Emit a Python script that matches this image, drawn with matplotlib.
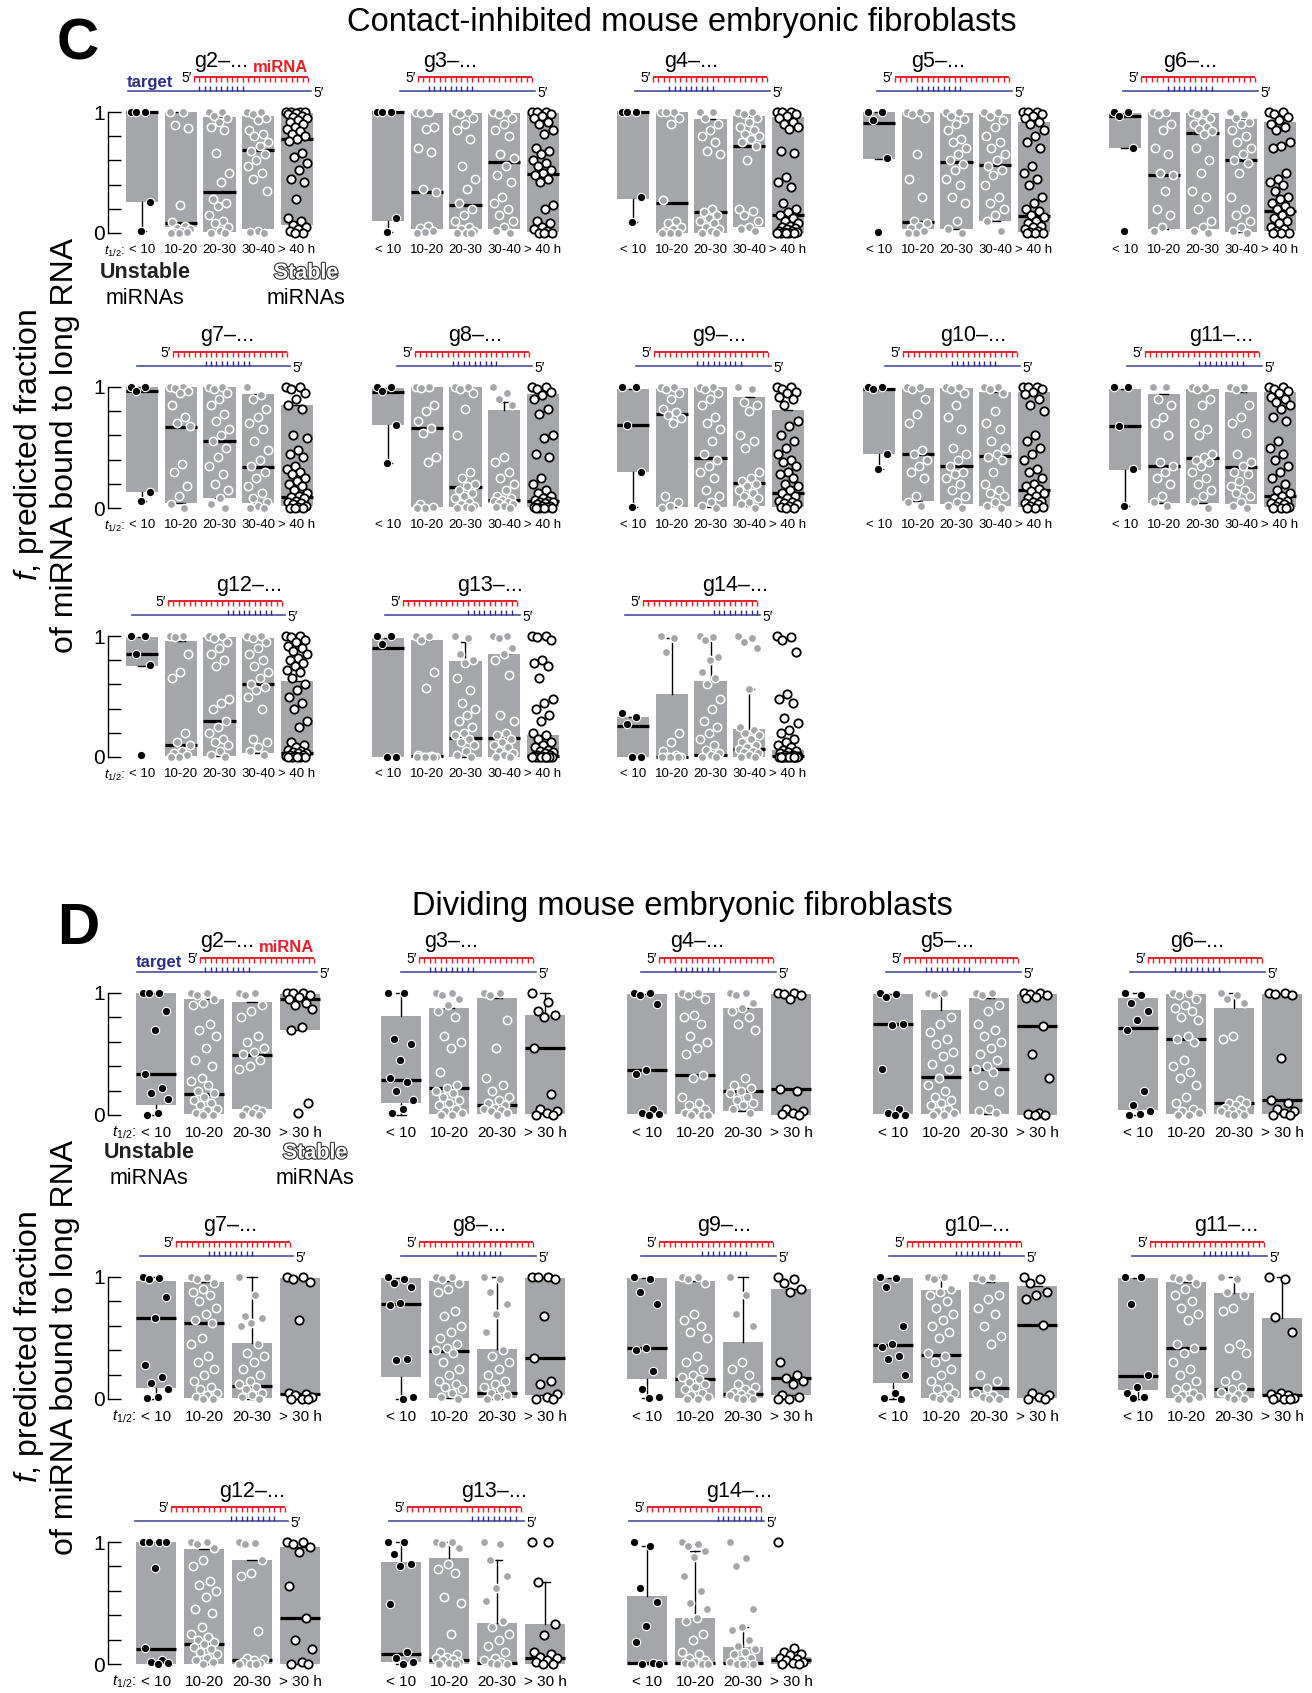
import numpy as np
import matplotlib
import matplotlib.pyplot as plt
from matplotlib import font_manager, patheffects

# ---------------------------------------------------------------
#   Data: points per half-life group and
#   box stats (whisker low, q1, median, q3, whisker high)
# ---------------------------------------------------------------
c_groups = ['< 10', '10-20', '20-30', '30-40', '> 40 h']
d_groups = ['< 10', '10-20', '20-30', '> 30 h']
seeds = [2, 3, 4, 5, 6, 7, 8, 9, 10, 11, 12, 13, 14]

# Contact-inhibited MEFs
c_g2 = [[1, 1, 1, 0.26, 0.02],
        [1, 1, 0.89, 0.87, 0.23, 0.09, 0.06, 0.04, 0.03, 0.02, 0.01, 0.01, 0, 0],
        [1, 1, 0.97, 0.95, 0.92, 0.88, 0.85, 0.66, 0.5, 0.42, 0.28, 0.25, 0.22, 0.15, 0.1, 0.08, 0.05, 0.02, 0, 0],
        [1, 1, 0.98, 0.95, 0.93, 0.85, 0.82, 0.8, 0.75, 0.72, 0.68, 0.65, 0.6, 0.55, 0.5, 0.45, 0.35, 0.02, 0.01, 0],
        [1, 1, 1, 1, 0.99, 0.98, 0.97, 0.96, 0.95, 0.93, 0.92, 0.9, 0.88, 0.86, 0.84, 0.82, 0.8, 0.78, 0.76, 0.66,
         0.63, 0.58, 0.52, 0.45, 0.42, 0.28, 0.12, 0.1, 0.07, 0.05, 0.03, 0.02, 0, 0]]
c_g3 = [[1, 1, 1, 0.12, 0.01],
        [1, 1, 0.99, 0.88, 0.86, 0.7, 0.67, 0.36, 0.34, 0.06, 0.04, 0.02, 0.01, 0],
        [1, 1, 0.98, 0.95, 0.9, 0.85, 0.78, 0.55, 0.45, 0.36, 0.25, 0.2, 0.15, 0.1, 0.05, 0.03, 0.02, 0, 0, 0],
        [1, 1, 0.98, 0.95, 0.9, 0.85, 0.8, 0.65, 0.62, 0.55, 0.48, 0.42, 0.3, 0.25, 0.2, 0.15, 0.1, 0.05, 0.02, 0],
        [1, 1, 1, 0.98, 0.97, 0.95, 0.92, 0.9, 0.85, 0.82, 0.7, 0.68, 0.65, 0.6, 0.58, 0.55, 0.52, 0.5, 0.48, 0.45,
         0.42, 0.23, 0.2, 0.1, 0.08, 0.05, 0.03, 0.02, 0, 0, 0]]
c_g4 = [[1, 1, 1, 0.3, 0.09],
        [1, 1, 1, 0.95, 0.9, 0.27, 0.1, 0.08, 0.05, 0.03, 0.02, 0, 0, 0],
        [1, 1, 0.95, 0.9, 0.85, 0.8, 0.75, 0.68, 0.65, 0.2, 0.17, 0.15, 0.12, 0.1, 0.08, 0.05, 0.03, 0.02, 0, 0],
        [1, 1, 0.98, 0.95, 0.92, 0.88, 0.85, 0.82, 0.8, 0.78, 0.75, 0.72, 0.6, 0.2, 0.18, 0.15, 0.1, 0.05, 0.03, 0.02],
        [1, 1, 1, 0.98, 0.97, 0.95, 0.92, 0.9, 0.88, 0.86, 0.68, 0.66, 0.46, 0.42, 0.38, 0.25, 0.2, 0.17, 0.15, 0.12,
         0.1, 0.08, 0.06, 0.05, 0.04, 0.03, 0.02, 0.02, 0.01, 0.01, 0, 0, 0, 0, 0]]
c_g5 = [[1, 1, 0.93, 0.62, 0.01],
        [1, 1, 0.98, 0.95, 0.65, 0.45, 0.3, 0.1, 0.08, 0.06, 0.04, 0.02, 0, 0],
        [1, 1, 0.97, 0.94, 0.9, 0.85, 0.78, 0.75, 0.7, 0.65, 0.6, 0.57, 0.52, 0.45, 0.4, 0.3, 0.25, 0.1, 0.03, 0],
        [1, 1, 0.97, 0.93, 0.88, 0.8, 0.75, 0.7, 0.65, 0.6, 0.55, 0.52, 0.48, 0.4, 0.3, 0.25, 0.2, 0.15, 0.1, 0.02],
        [1, 1, 1, 0.98, 0.97, 0.95, 0.92, 0.9, 0.85, 0.8, 0.75, 0.7, 0.55, 0.5, 0.45, 0.4, 0.3, 0.25, 0.2, 0.18,
         0.15, 0.13, 0.1, 0.08, 0.06, 0.05, 0.03, 0.02, 0.01, 0, 0, 0]]
c_g6 = [[1, 1, 0.97, 0.7, 0.02],
        [1, 1, 0.98, 0.9, 0.85, 0.7, 0.65, 0.5, 0.48, 0.35, 0.2, 0.15, 0.05, 0.02],
        [1, 1, 0.98, 0.95, 0.92, 0.9, 0.88, 0.86, 0.84, 0.82, 0.7, 0.6, 0.5, 0.35, 0.3, 0.2, 0.1, 0.05, 0.02, 0],
        [1, 0.98, 0.95, 0.92, 0.9, 0.85, 0.8, 0.75, 0.7, 0.65, 0.6, 0.58, 0.5, 0.3, 0.2, 0.15, 0.1, 0.05, 0.02, 0],
        [1, 1, 0.98, 0.96, 0.93, 0.9, 0.88, 0.85, 0.75, 0.72, 0.7, 0.5, 0.45, 0.42, 0.4, 0.35, 0.3, 0.28, 0.25, 0.22,
         0.2, 0.18, 0.15, 0.12, 0.1, 0.08, 0.05, 0.03, 0.02, 0, 0, 0]]
c_g7 = [[1, 1, 0.97, 0.13, 0.06],
        [1, 1, 0.99, 0.97, 0.95, 0.85, 0.75, 0.7, 0.68, 0.36, 0.3, 0.18, 0.1, 0.03, 0],
        [1, 1, 0.98, 0.95, 0.9, 0.85, 0.78, 0.72, 0.65, 0.6, 0.55, 0.5, 0.42, 0.35, 0.28, 0.2, 0.15, 0.08, 0.03, 0],
        [1, 0.93, 0.9, 0.82, 0.75, 0.7, 0.65, 0.55, 0.48, 0.4, 0.35, 0.3, 0.25, 0.18, 0.12, 0.08, 0.05, 0.02, 0, 0],
        [1, 1, 0.98, 0.95, 0.9, 0.85, 0.82, 0.6, 0.58, 0.48, 0.45, 0.42, 0.35, 0.32, 0.3, 0.28, 0.25, 0.22, 0.2,
         0.18, 0.15, 0.12, 0.1, 0.09, 0.08, 0.06, 0.05, 0.04, 0.03, 0.02, 0.01, 0, 0, 0]]
c_g8 = [[1, 1, 0.97, 0.69, 0.37],
        [1, 1, 0.99, 0.85, 0.8, 0.72, 0.66, 0.62, 0.42, 0.38, 0.03, 0.01, 0, 0],
        [1, 1, 0.98, 0.95, 0.82, 0.6, 0.3, 0.25, 0.2, 0.18, 0.15, 0.12, 0.1, 0.08, 0.05, 0.03, 0.02, 0.01, 0, 0],
        [1, 0.95, 0.9, 0.85, 0.42, 0.38, 0.3, 0.25, 0.2, 0.15, 0.1, 0.08, 0.07, 0.06, 0.05, 0.04, 0.03, 0.02, 0.01, 0],
        [1, 1, 0.98, 0.96, 0.93, 0.9, 0.82, 0.78, 0.6, 0.58, 0.45, 0.42, 0.25, 0.2, 0.15, 0.12, 0.1, 0.08, 0.07,
         0.06, 0.05, 0.05, 0.04, 0.03, 0.02, 0.02, 0.01, 0.01, 0, 0, 0, 0]]
c_g9 = [[1, 1, 0.69, 0.3, 0.01],
        [1, 1, 0.98, 0.95, 0.9, 0.82, 0.79, 0.77, 0.74, 0.7, 0.1, 0.05, 0.02, 0],
        [1, 1, 0.98, 0.95, 0.9, 0.85, 0.75, 0.7, 0.65, 0.55, 0.45, 0.4, 0.35, 0.3, 0.25, 0.15, 0.1, 0.05, 0.02, 0],
        [1, 0.98, 0.88, 0.85, 0.8, 0.6, 0.55, 0.5, 0.3, 0.25, 0.22, 0.2, 0.18, 0.15, 0.12, 0.1, 0.08, 0.05, 0.03, 0],
        [1, 1, 0.98, 0.96, 0.95, 0.92, 0.9, 0.85, 0.72, 0.68, 0.6, 0.55, 0.5, 0.45, 0.4, 0.38, 0.35, 0.3, 0.28,
         0.25, 0.2, 0.18, 0.15, 0.12, 0.1, 0.08, 0.06, 0.05, 0.04, 0.03, 0.02, 0.01, 0, 0]]
c_g10 = [[1, 1, 0.98, 0.45, 0.32],
         [1, 1, 0.98, 0.9, 0.78, 0.7, 0.48, 0.45, 0.4, 0.35, 0.3, 0.25, 0.1, 0.05, 0.02],
         [1, 1, 0.98, 0.95, 0.85, 0.75, 0.65, 0.5, 0.45, 0.4, 0.35, 0.3, 0.28, 0.25, 0.2, 0.15, 0.1, 0.05, 0.02, 0],
         [1, 1, 0.98, 0.95, 0.8, 0.7, 0.65, 0.55, 0.5, 0.45, 0.42, 0.4, 0.3, 0.2, 0.15, 0.12, 0.1, 0.05, 0.02, 0],
         [1, 1, 1, 0.98, 0.96, 0.94, 0.9, 0.85, 0.8, 0.6, 0.55, 0.5, 0.45, 0.4, 0.32, 0.3, 0.25, 0.2, 0.18, 0.16,
          0.14, 0.12, 0.1, 0.08, 0.06, 0.05, 0.04, 0.03, 0.02, 0.01, 0, 0]]
c_g11 = [[1, 1, 0.68, 0.32, 0.02],
         [1, 1, 0.9, 0.85, 0.75, 0.7, 0.6, 0.38, 0.35, 0.3, 0.25, 0.2, 0.1, 0.05, 0.02],
         [1, 1, 0.98, 0.9, 0.85, 0.7, 0.65, 0.6, 0.45, 0.42, 0.4, 0.38, 0.35, 0.3, 0.25, 0.2, 0.15, 0.1, 0.05, 0],
         [1, 1, 0.98, 0.85, 0.75, 0.7, 0.62, 0.45, 0.38, 0.35, 0.3, 0.28, 0.22, 0.18, 0.15, 0.12, 0.1, 0.05, 0.02, 0],
         [1, 1, 0.98, 0.97, 0.95, 0.92, 0.9, 0.88, 0.85, 0.82, 0.75, 0.72, 0.55, 0.5, 0.45, 0.4, 0.35, 0.3, 0.25,
          0.2, 0.15, 0.12, 0.1, 0.08, 0.06, 0.05, 0.04, 0.03, 0.02, 0.01, 0, 0, 0]]
c_g12 = [[1, 1, 0.85, 0.76, 0.02],
         [1, 1, 0.99, 0.85, 0.7, 0.65, 0.2, 0.12, 0.1, 0.05, 0.03, 0.02, 0, 0],
         [1, 1, 0.98, 0.95, 0.9, 0.85, 0.8, 0.75, 0.48, 0.45, 0.4, 0.3, 0.25, 0.2, 0.15, 0.12, 0.1, 0.05, 0.02, 0],
         [1, 1, 0.98, 0.95, 0.9, 0.85, 0.8, 0.75, 0.7, 0.65, 0.6, 0.58, 0.55, 0.5, 0.4, 0.15, 0.12, 0.08, 0.05, 0.02],
         [1, 1, 0.99, 0.97, 0.95, 0.92, 0.9, 0.88, 0.85, 0.82, 0.8, 0.78, 0.75, 0.72, 0.7, 0.65, 0.6, 0.55, 0.5,
          0.45, 0.4, 0.3, 0.25, 0.12, 0.1, 0.08, 0.06, 0.05, 0.04, 0.03, 0.03, 0.02, 0.02, 0.01, 0.01, 0, 0, 0, 0, 0]]
c_g13 = [[1, 1, 0.93, 0, 0],
         [1, 1, 0.97, 0.7, 0.57, 0.02, 0.01, 0, 0, 0, 0, 0, 0, 0],
         [1, 0.98, 0.85, 0.8, 0.78, 0.65, 0.55, 0.45, 0.4, 0.35, 0.3, 0.25, 0.2, 0.18, 0.15, 0.12, 0.1, 0.05, 0.02, 0],
         [1, 1, 0.98, 0.9, 0.85, 0.8, 0.68, 0.35, 0.3, 0.2, 0.18, 0.15, 0.12, 0.1, 0.08, 0.05, 0.03, 0.02, 0, 0],
         [1, 1, 0.99, 0.97, 0.8, 0.78, 0.75, 0.65, 0.48, 0.45, 0.4, 0.35, 0.3, 0.2, 0.18, 0.15, 0.12, 0.1, 0.08,
          0.06, 0.05, 0.04, 0.03, 0.02, 0.02, 0.01, 0.01, 0, 0, 0, 0, 0, 0, 0, 0, 0]]
c_g14 = [[0.36, 0.33, 0.27, 0, 0],
         [1, 0.98, 0.87, 0.2, 0.12, 0.05, 0.02, 0, 0, 0, 0, 0, 0, 0],
         [1, 0.99, 0.97, 0.83, 0.8, 0.7, 0.65, 0.6, 0.48, 0.4, 0.3, 0.25, 0.2, 0.15, 0.1, 0.06, 0.03, 0.02, 0, 0],
         [1, 0.98, 0.95, 0.9, 0.56, 0.25, 0.22, 0.2, 0.18, 0.15, 0.12, 0.1, 0.08, 0.07, 0.05, 0.04, 0.03, 0.02, 0, 0],
         [1, 0.99, 0.97, 0.87, 0.52, 0.48, 0.45, 0.32, 0.28, 0.22, 0.2, 0.15, 0.12, 0.1, 0.08, 0.06, 0.05, 0.04,
          0.03, 0.02, 0.02, 0.01, 0.01, 0, 0, 0, 0, 0, 0, 0, 0, 0, 0]]

c_g2_box = [(0.02, 0.26, 1, 1, 1), (0.05, 0.05, 0.08, 1, 1), (0.01, 0.01, 0.34, 0.96, 0.96),
            (0.03, 0.03, 0.69, 0.97, 0.97), (0.07, 0.07, 0.78, 0.99, 0.99)]
c_g3_box = [(0.01, 0.1, 1, 1, 1), (0.03, 0.03, 0.34, 0.99, 0.99), (0.03, 0.03, 0.23, 0.99, 0.99),
            (0.03, 0.03, 0.59, 0.99, 0.99), (0.01, 0.01, 0.49, 0.99, 0.99)]
c_g4_box = [(0.09, 0.28, 1, 1, 1), (0, 0, 0.25, 1, 1), (0, 0, 0.17, 0.94, 0.94),
            (0.05, 0.05, 0.72, 0.97, 0.97), (0, 0, 0.15, 0.96, 0.96)]
c_g5_box = [(0.61, 0.61, 0.91, 1, 1), (0.03, 0.03, 0.09, 1, 1), (0.03, 0.03, 0.59, 0.99, 0.99),
            (0.1, 0.1, 0.56, 0.98, 0.98), (0.01, 0.01, 0.14, 0.92, 0.92)]
c_g6_box = [(0.7, 0.7, 0.97, 0.99, 0.99), (0.03, 0.03, 0.48, 1, 1), (0.03, 0.03, 0.83, 0.99, 0.99),
            (0.01, 0.01, 0.6, 0.94, 0.94), (0.02, 0.02, 0.18, 0.92, 0.92)]
c_g7_box = [(0.06, 0.13, 0.97, 1, 1), (0.04, 0.04, 0.67, 1, 1), (0.08, 0.08, 0.55, 1, 1),
            (0.04, 0.04, 0.34, 0.94, 0.94), (0.02, 0.02, 0.09, 0.85, 0.85)]
c_g8_box = [(0.37, 0.69, 0.96, 0.99, 0.99), (0.01, 0.01, 0.66, 1, 1), (0.01, 0.01, 0.17, 1, 1),
            (0.04, 0.04, 0.07, 0.81, 0.88), (0.01, 0.01, 0.06, 0.94, 0.94)]
c_g9_box = [(0.01, 0.3, 0.69, 0.98, 0.98), (0.01, 0.01, 0.78, 0.99, 0.99), (0.01, 0.01, 0.41, 1, 1),
            (0.02, 0.02, 0.21, 0.92, 0.92), (0.01, 0.01, 0.12, 0.81, 0.81)]
c_g10_box = [(0.32, 0.45, 0.98, 0.99, 0.99), (0.06, 0.06, 0.45, 0.99, 0.99), (0.03, 0.03, 0.35, 0.99, 0.99),
             (0.02, 0.02, 0.43, 0.96, 0.96), (0.01, 0.01, 0.15, 0.96, 0.96)]
c_g11_box = [(0.02, 0.31, 0.68, 0.98, 0.98), (0.04, 0.04, 0.35, 0.94, 0.94), (0.04, 0.04, 0.41, 0.98, 0.98),
             (0.03, 0.03, 0.34, 0.96, 0.96), (0.01, 0.01, 0.1, 0.96, 0.96)]
c_g12_box = [(0.75, 0.75, 0.85, 0.99, 0.99), (0.01, 0.01, 0.1, 0.96, 0.96), (0.01, 0.01, 0.3, 0.99, 0.99),
             (0.03, 0.03, 0.6, 0.98, 0.98), (0.01, 0.01, 0.03, 0.63, 0.63)]
c_g13_box = [(0, 0, 0.9, 0.98, 0.98), (0, 0, 0.01, 0.97, 0.97), (0, 0, 0.16, 0.79, 0.95),
             (0, 0, 0.16, 0.85, 0.85), (0, 0, 0.01, 0.18, 0.18)]
c_g14_box = [(0, 0, 0.26, 0.33, 0.33), (0, 0, 0, 0.52, 0.98), (0, 0, 0.02, 0.63, 0.98),
             (0, 0, 0.07, 0.23, 0.56), (0, 0, 0.01, 0.06, 0.06)]

# Dividing MEFs
d_g2 = [[1, 1, 1, 0.85, 0.7, 0.34, 0.22, 0.18, 0.13, 0.02, 0],
        [1, 1, 0.98, 0.95, 0.92, 0.9, 0.75, 0.7, 0.65, 0.55, 0.45, 0.4, 0.3, 0.28, 0.25, 0.2, 0.18, 0.15, 0.12,
         0.1, 0.08, 0.05, 0.04, 0.02, 0, 0],
        [1, 1, 0.98, 0.9, 0.85, 0.8, 0.65, 0.6, 0.55, 0.52, 0.5, 0.45, 0.4, 0.38, 0.05, 0.04, 0.03, 0.02, 0, 0],
        [1, 1, 1, 0.98, 0.97, 0.95, 0.92, 0.9, 0.87, 0.72, 0.7, 0.1, 0.02]]
d_g3 = [[1, 1, 0.62, 0.58, 0.45, 0.3, 0.27, 0.2, 0.12, 0.05, 0.02],
        [1, 1, 0.98, 0.95, 0.9, 0.85, 0.8, 0.65, 0.6, 0.55, 0.35, 0.25, 0.22, 0.2, 0.18, 0.15, 0.12, 0.1, 0.08,
         0.05, 0.03, 0.02, 0, 0],
        [1, 1, 0.98, 0.78, 0.55, 0.3, 0.25, 0.2, 0.15, 0.12, 0.1, 0.08, 0.06, 0.05, 0.04, 0.03, 0.02, 0],
        [1, 0.93, 0.85, 0.82, 0.8, 0.55, 0.17, 0.05, 0.03, 0.02, 0, 0]]
d_g4 = [[1, 1, 0.98, 0.91, 0.37, 0.34, 0.05, 0.02, 0.01, 0],
        [1, 1, 0.98, 0.95, 0.82, 0.8, 0.75, 0.65, 0.6, 0.55, 0.5, 0.33, 0.3, 0.15, 0.1, 0.08, 0.05, 0.03, 0.02,
         0, 0, 0],
        [1, 1, 0.98, 0.92, 0.88, 0.85, 0.8, 0.75, 0.7, 0.3, 0.25, 0.22, 0.2, 0.18, 0.15, 0.12, 0.1, 0.08, 0.05, 0.02],
        [1, 1, 0.99, 0.98, 0.95, 0.21, 0.2, 0.05, 0.03, 0.02, 0.01, 0]]
d_g5 = [[1, 0.99, 0.97, 0.75, 0.74, 0.38, 0.05, 0.02, 0, 0],
        [1, 1, 0.98, 0.8, 0.75, 0.68, 0.62, 0.58, 0.52, 0.48, 0.42, 0.38, 0.3, 0.25, 0.2, 0.15, 0.12, 0.1, 0.08,
         0.05, 0.03, 0.02, 0, 0],
        [1, 1, 0.98, 0.9, 0.85, 0.75, 0.7, 0.65, 0.6, 0.55, 0.5, 0.45, 0.4, 0.38, 0.35, 0.25, 0.2, 0.05, 0.03, 0.02],
        [1, 1, 0.99, 0.98, 0.97, 0.96, 0.73, 0.5, 0.3, 0.02, 0.01, 0, 0]]
d_g6 = [[1, 0.98, 0.92, 0.85, 0.78, 0.7, 0.2, 0.08, 0.03, 0.01, 0],
        [1, 1, 0.98, 0.95, 0.9, 0.88, 0.85, 0.8, 0.78, 0.65, 0.62, 0.6, 0.45, 0.4, 0.35, 0.3, 0.25, 0.15, 0.1,
         0.05, 0.03, 0.02, 0, 0],
        [1, 0.98, 0.95, 0.92, 0.65, 0.62, 0.12, 0.1, 0.1, 0.08, 0.06, 0.05, 0.04, 0.03, 0.02, 0.01, 0, 0],
        [1, 1, 0.99, 0.98, 0.47, 0.12, 0.1, 0.05, 0.03, 0.02, 0, 0]]
d_g7 = [[1, 0.99, 0.98, 0.84, 0.66, 0.28, 0.18, 0.13, 0.08, 0.02, 0.01],
        [1, 1, 0.98, 0.95, 0.9, 0.88, 0.85, 0.8, 0.75, 0.7, 0.65, 0.62, 0.5, 0.45, 0.35, 0.3, 0.25, 0.2, 0.15,
         0.1, 0.08, 0.05, 0.03, 0.02, 0, 0],
        [1, 0.85, 0.68, 0.66, 0.62, 0.6, 0.45, 0.38, 0.35, 0.3, 0.25, 0.2, 0.15, 0.12, 0.1, 0.08, 0.05, 0.03, 0.02, 0],
        [1, 1, 0.98, 0.96, 0.65, 0.05, 0.04, 0.03, 0.02, 0, 0, 0]]
d_g8 = [[1, 0.98, 0.95, 0.92, 0.79, 0.77, 0.33, 0.32, 0.02, 0],
        [1, 1, 0.98, 0.95, 0.9, 0.88, 0.72, 0.68, 0.6, 0.55, 0.5, 0.45, 0.42, 0.4, 0.38, 0.3, 0.25, 0.2, 0.15,
         0.12, 0.1, 0.08, 0.05, 0.02, 0],
        [1, 0.98, 0.88, 0.78, 0.7, 0.55, 0.4, 0.35, 0.3, 0.25, 0.2, 0.15, 0.12, 0.1, 0.08, 0.05, 0.03, 0.02, 0],
        [1, 1, 1, 0.98, 0.68, 0.34, 0.15, 0.12, 0.04, 0.02, 0, 0]]
d_g9 = [[1, 0.98, 0.88, 0.78, 0.42, 0.4, 0.23, 0.08, 0.02, 0.01],
        [1, 1, 0.98, 0.95, 0.7, 0.65, 0.6, 0.55, 0.5, 0.35, 0.3, 0.25, 0.2, 0.18, 0.16, 0.14, 0.12, 0.1, 0.08,
         0.05, 0.03, 0.02, 0, 0],
        [1, 0.85, 0.7, 0.6, 0.3, 0.25, 0.2, 0.12, 0.1, 0.08, 0.06, 0.05, 0.04, 0.03, 0.02, 0.01, 0, 0],
        [1, 0.98, 0.95, 0.9, 0.88, 0.3, 0.2, 0.17, 0.15, 0.12, 0.03, 0.02, 0, 0]]
d_g10 = [[1, 0.99, 0.92, 0.6, 0.45, 0.43, 0.35, 0.33, 0.2, 0.05, 0.01, 0],
         [1, 1, 0.98, 0.9, 0.88, 0.85, 0.8, 0.75, 0.7, 0.65, 0.6, 0.55, 0.5, 0.38, 0.35, 0.3, 0.25, 0.2, 0.15,
          0.1, 0.08, 0.05, 0.03, 0.02, 0, 0],
         [1, 1, 0.98, 0.85, 0.82, 0.75, 0.7, 0.6, 0.52, 0.45, 0.2, 0.15, 0.09, 0.05, 0.03, 0.02, 0, 0],
         [1, 0.98, 0.95, 0.88, 0.85, 0.82, 0.61, 0.05, 0.03, 0.02, 0, 0]]
d_g11 = [[1, 1, 0.78, 0.2, 0.1, 0.05, 0.02, 0.01],
         [1, 1, 0.98, 0.95, 0.9, 0.85, 0.8, 0.75, 0.7, 0.65, 0.45, 0.42, 0.38, 0.3, 0.25, 0.2, 0.15, 0.1, 0.08,
          0.05, 0.03, 0.02, 0, 0],
         [1, 0.98, 0.88, 0.85, 0.75, 0.72, 0.45, 0.42, 0.38, 0.2, 0.15, 0.1, 0.08, 0.06, 0.04, 0.02, 0, 0],
         [1, 0.98, 0.67, 0.55, 0.05, 0.04, 0.03, 0.02, 0.01, 0, 0, 0]]
d_g12 = [[1, 1, 1, 1, 0.79, 0.13, 0.03, 0.02, 0.01, 0],
         [1, 1, 0.98, 0.95, 0.85, 0.8, 0.68, 0.65, 0.6, 0.55, 0.45, 0.42, 0.3, 0.25, 0.22, 0.2, 0.18, 0.16, 0.14,
          0.12, 0.1, 0.08, 0.05, 0.03, 0.02, 0],
         [1, 0.99, 0.98, 0.85, 0.75, 0.72, 0.27, 0.05, 0.04, 0.03, 0.02, 0.01, 0, 0, 0],
         [1, 1, 0.98, 0.96, 0.92, 0.64, 0.38, 0.2, 0.12, 0.02, 0, 0]]
d_g13 = [[1, 1, 0.9, 0.82, 0.8, 0.49, 0.1, 0.05, 0.02, 0],
         [1, 1, 0.98, 0.95, 0.82, 0.78, 0.75, 0.55, 0.5, 0.25, 0.1, 0.08, 0.06, 0.05, 0.04, 0.03, 0.02, 0.01, 0, 0],
         [1, 0.98, 0.85, 0.72, 0.62, 0.52, 0.35, 0.3, 0.25, 0.2, 0.15, 0.1, 0.05, 0.03, 0.02, 0.01, 0, 0],
         [1, 1, 0.67, 0.33, 0.24, 0.1, 0.08, 0.06, 0.05, 0.03, 0.02, 0, 0]]
d_g14 = [[1, 0.97, 0.62, 0.51, 0.31, 0.18, 0.01, 0, 0],
         [1, 0.98, 0.97, 0.93, 0.88, 0.72, 0.6, 0.5, 0.45, 0.38, 0.35, 0.25, 0.2, 0.1, 0.08, 0.05, 0.03, 0.02,
          0.01, 0, 0, 0],
         [1, 0.87, 0.8, 0.45, 0.3, 0.28, 0.2, 0.15, 0.12, 0.1, 0.08, 0.05, 0.03, 0.02, 0, 0, 0, 0],
         [1, 0.13, 0.1, 0.08, 0.07, 0.05, 0.04, 0.03, 0.02, 0.01, 0, 0]]

d_g2_box = [(0, 0.08, 0.34, 1, 1), (0.01, 0.01, 0.17, 0.95, 0.95), (0.05, 0.05, 0.49, 0.93, 0.93),
            (0.7, 0.7, 0.95, 0.99, 0.99)]
d_g3_box = [(0, 0.1, 0.29, 0.81, 1), (0.01, 0.01, 0.22, 0.88, 0.88), (0.01, 0.01, 0.08, 0.96, 0.96),
            (0.01, 0.01, 0.55, 0.82, 1)]
d_g4_box = [(0, 0.01, 0.37, 0.99, 0.99), (0.01, 0.01, 0.33, 1, 1), (0.03, 0.03, 0.2, 0.88, 0.88),
            (0, 0, 0.21, 0.99, 0.99)]
d_g5_box = [(0, 0.01, 0.75, 0.99, 0.99), (0.01, 0.01, 0.31, 0.86, 0.98), (0.01, 0.01, 0.38, 0.96, 0.96),
            (0, 0, 0.73, 0.99, 0.99)]
d_g6_box = [(0, 0.04, 0.71, 0.96, 1), (0.01, 0.01, 0.62, 0.99, 0.99), (0, 0.01, 0.1, 0.88, 1),
            (0.01, 0.01, 0.12, 0.99, 0.99)]
d_g7_box = [(0, 0.09, 0.66, 0.97, 1), (0.01, 0.01, 0.62, 0.96, 0.96), (0, 0.01, 0.11, 0.46, 1),
            (0.03, 0.03, 0.04, 0.99, 0.99)]
d_g8_box = [(0, 0.18, 0.78, 0.99, 0.99), (0.01, 0.01, 0.39, 0.97, 0.97), (0, 0.01, 0.05, 0.41, 1),
            (0.03, 0.03, 0.34, 0.99, 0.99)]
d_g9_box = [(0.01, 0.16, 0.42, 0.99, 0.99), (0.01, 0.01, 0.16, 0.97, 0.97), (0, 0.01, 0.04, 0.47, 1),
            (0.03, 0.03, 0.17, 0.9, 0.9)]
d_g10_box = [(0, 0.13, 0.44, 0.99, 0.99), (0.01, 0.01, 0.36, 0.89, 1), (0.01, 0.01, 0.09, 0.96, 0.96),
             (0.01, 0.01, 0.61, 0.93, 0.93)]
d_g11_box = [(0, 0.07, 0.19, 0.99, 0.99), (0.01, 0.01, 0.42, 0.96, 0.96), (0, 0.01, 0.08, 0.87, 1),
             (0, 0.03, 0.03, 0.66, 1)]
d_g12_box = [(0, 0, 0.12, 1, 1), (0, 0, 0.16, 0.94, 0.94), (0, 0, 0.03, 0.85, 0.85),
             (0, 0, 0.38, 0.96, 0.96)]
d_g13_box = [(0, 0.02, 0.08, 0.84, 1), (0, 0, 0.03, 0.87, 1), (0, 0, 0.01, 0.34, 0.85),
             (0, 0, 0.05, 0.33, 0.67)]
d_g14_box = [(0, 0.01, 0.01, 0.56, 0.97), (0, 0, 0.01, 0.38, 0.93), (0, 0, 0.01, 0.14, 0.3),
             (0, 0, 0.03, 0.06, 0.06)]

c_panels = [c_g2, c_g3, c_g4, c_g5, c_g6, c_g7, c_g8, c_g9, c_g10, c_g11, c_g12, c_g13, c_g14]
c_boxes = [c_g2_box, c_g3_box, c_g4_box, c_g5_box, c_g6_box, c_g7_box, c_g8_box, c_g9_box,
           c_g10_box, c_g11_box, c_g12_box, c_g13_box, c_g14_box]
d_panels = [d_g2, d_g3, d_g4, d_g5, d_g6, d_g7, d_g8, d_g9, d_g10, d_g11, d_g12, d_g13, d_g14]
d_boxes = [d_g2_box, d_g3_box, d_g4_box, d_g5_box, d_g6_box, d_g7_box, d_g8_box, d_g9_box,
           d_g10_box, d_g11_box, d_g12_box, d_g13_box, d_g14_box]

# ---------------------------------------------------------------
#   Layout (pixels of the 1312 x 1693 canvas)
# ---------------------------------------------------------------
W, H = 1312, 1693
GRAY = '#a5a6a9'
RED = '#e8202a'
NAVY = '#2b2e8e'

names = {f.name for f in font_manager.fontManager.ttflist}
narrow = 'Liberation Sans Narrow' if 'Liberation Sans Narrow' in names else 'Liberation Sans'
plt.rcParams['font.family'] = ['Liberation Sans', 'DejaVu Sans']
plt.rcParams['mathtext.fontset'] = 'custom'
plt.rcParams['mathtext.it'] = 'Liberation Sans:italic'
plt.rcParams['mathtext.rm'] = 'Liberation Sans'

fig = plt.figure(figsize=(W / 100, H / 100), dpi=100)
ov = fig.add_axes([0, 0, 1, 1])
ov.set_xlim(0, W)
ov.set_ylim(H, 0)
ov.axis('off')

c_cols = [142, 388, 633, 879, 1125]
c_y1 = [112, 387, 636]
c_y0 = [233, 508, 757]
c_comb = [194, 418, 653, 895, 1141, 173, 415, 654, 903, 1145, 168, 403, 643]
d_cols = [156, 401, 647, 893, 1138]
d_y1 = [993, 1277, 1542]
d_y0 = [1115, 1399, 1664]
d_comb = [200, 419, 659, 904, 1148, 176, 419, 659, 907, 1150, 171, 407, 647]


def px_axes(left, top, width, height):
    return fig.add_axes([left / W, 1 - (top + height) / H, width / W, height / H])


def draw_panel(c0, y1, y0, unit, xlo, xhi, pts, boxes, labels, first, fs):
    span = y0 - y1
    pad = 0.06
    ax = px_axes(c0 + xlo * unit, y1 - pad * span, (xhi - xlo) * unit, (1 + 2 * pad) * span)
    ax.set_xlim(xlo, xhi)
    ax.set_ylim(-pad, 1 + pad)
    ax.patch.set_alpha(0)
    stats = [dict(whislo=b[0], q1=b[1], med=b[2], q3=b[3], whishi=b[4], fliers=[]) for b in boxes]
    ax.bxp(stats, positions=range(len(stats)), widths=0.83, patch_artist=True, showfliers=False,
           boxprops=dict(facecolor=GRAY, edgecolor='none', linewidth=0),
           medianprops=dict(color='black', linewidth=2.3, solid_capstyle='butt'),
           whiskerprops=dict(color='black', linewidth=1),
           capprops=dict(color='black', linewidth=1), capwidths=0.22, manage_ticks=False)
    last = len(pts) - 1
    for i, vals in enumerate(pts):
        n = len(vals)
        jit = ((np.arange(n) * 0.618034) % 1 - 0.5) * 0.56
        if i == 0:
            fc, ec, lw = 'black', 'white', 0.8
        elif i == last:
            fc, ec, lw = 'white', 'black', 1.3
        else:
            fc, ec, lw = GRAY, 'white', 1.1
        ax.scatter(i + jit, vals, s=36, facecolor=fc, edgecolor=ec, linewidths=lw, zorder=3)
    for side in ['top', 'right', 'bottom', 'left']:
        ax.spines[side].set_visible(False)
    ax.set_xticks(range(len(labels)))
    ax.set_xticklabels(labels, fontsize=fs, fontfamily=narrow)
    ax.tick_params(axis='x', length=0, pad=3)
    if first:
        ax.spines['left'].set_visible(True)
        ax.spines['left'].set_bounds(0, 1)
        ax.spines['left'].set_linewidth(1)
        ax.set_yticks([0, 0.2, 0.4, 0.6, 0.8, 1])
        ax.set_yticklabels(['0', '', '', '', '', '1'])
        ax.tick_params(axis='y', direction='in', length=9, width=1, labelsize=15, pad=2)
        ov.text(c0 - 0.42 * unit, y0 + 18, r'$t_{1/2}$:', ha='right', va='center', fontsize=fs)
    else:
        ax.set_yticks([])
    return ax


def draw_duplex(n, comb_x, blue_x0, y1, first_seed):
    y_red = y1 - 35
    y_blue = y1 - 21
    xs = comb_x + np.arange(22) * 5.43
    ov.plot([xs[0], xs[-1]], [y_red, y_red], color=RED, lw=1.4, solid_capstyle='butt')
    ov.vlines(xs, y_red, y_red + 5, color=RED, lw=1.0)
    ov.plot([blue_x0, xs[-1] + 3], [y_blue, y_blue], color=NAVY, lw=1.2, alpha=0.85)
    pair = xs[n - 1:min(n + 8, 22)]
    ov.vlines(pair, y_blue - 5, y_blue, color=NAVY, lw=1.0)
    ov.text(comb_x - 2, y_red + 1, '5\u2032', ha='right', va='center', fontsize=10,
            family=['Liberation Sans', 'DejaVu Sans'])
    ov.text(xs[-1] + 5, y_blue + 2, '5\u2032', ha='left', va='center', fontsize=10,
            family=['Liberation Sans', 'DejaVu Sans'])
    ov.text(pair.mean(), y1 - 51, 'g%d\u2013...' % n, ha='center', va='center', fontsize=15.5)
    if first_seed:
        ov.text(xs[-1], y1 - 45, 'miRNA', ha='right', va='center', fontsize=12,
                color=RED, fontweight='bold')
        ov.text(blue_x0 - 1, y1 - 30, 'target', ha='left', va='center', fontsize=12,
                color=NAVY, fontweight='bold')


# Contact-inhibited panels
for k, n in enumerate(seeds):
    row, col = divmod(k, 5)
    c0 = c_cols[col]
    draw_panel(c0, c_y1[row], c_y0[row], 38.75, -0.88, 4.55, c_panels[k], c_boxes[k],
               c_groups, col == 0, 9.5)
    if n == 2:
        bx = 128
    elif col == 0:
        bx = c_comb[k] - 36
    else:
        bx = c_comb[k] - 18
    draw_duplex(n, c_comb[k], bx, c_y1[row], n == 2)

# Dividing panels
for k, n in enumerate(seeds):
    row, col = divmod(k, 5)
    c0 = d_cols[col]
    draw_panel(c0, d_y1[row], d_y0[row], 48.0, -1.0, 3.55, d_panels[k], d_boxes[k],
               d_groups, col == 0, 11)
    if n == 2:
        bx = 137
    elif col == 0:
        bx = d_comb[k] - 36
    else:
        bx = d_comb[k] - 18
    draw_duplex(n, d_comb[k], bx, d_y1[row], n == 2)

# Titles, panel letters, axis labels
ov.text(682, 22, 'Contact-inhibited mouse embryonic fibroblasts', ha='center', va='center', fontsize=23.5)
ov.text(682, 907, 'Dividing mouse embryonic fibroblasts', ha='center', va='center', fontsize=23.5)
ov.text(78, 44, 'C', ha='center', va='center', fontsize=42, fontweight='bold')
ov.text(78, 929, 'D', ha='center', va='center', fontsize=42, fontweight='bold')

outline = [patheffects.withStroke(linewidth=1.6, foreground='#333333')]
for (ux, sx, ty) in [(145, 306, 273), (149, 315, 1153)]:
    ov.text(ux, ty, 'Unstable', ha='center', va='center', fontsize=15.5, fontweight='bold', color='#222222')
    ov.text(ux, ty + 25, 'miRNAs', ha='center', va='center', fontsize=15.5)
    ov.text(sx, ty, 'Stable', ha='center', va='center', fontsize=15.5, fontweight='bold',
            color='white', path_effects=outline)
    ov.text(sx, ty + 25, 'miRNAs', ha='center', va='center', fontsize=15.5)

for yc in [445, 1347]:
    ov.text(29, yc, r'$f$, predicted fraction', rotation=90, ha='center', va='center', fontsize=23)
    ov.text(65, yc, 'of miRNA bound to long RNA', rotation=90, ha='center', va='center', fontsize=23)

fig.savefig('out.png', dpi=100)
